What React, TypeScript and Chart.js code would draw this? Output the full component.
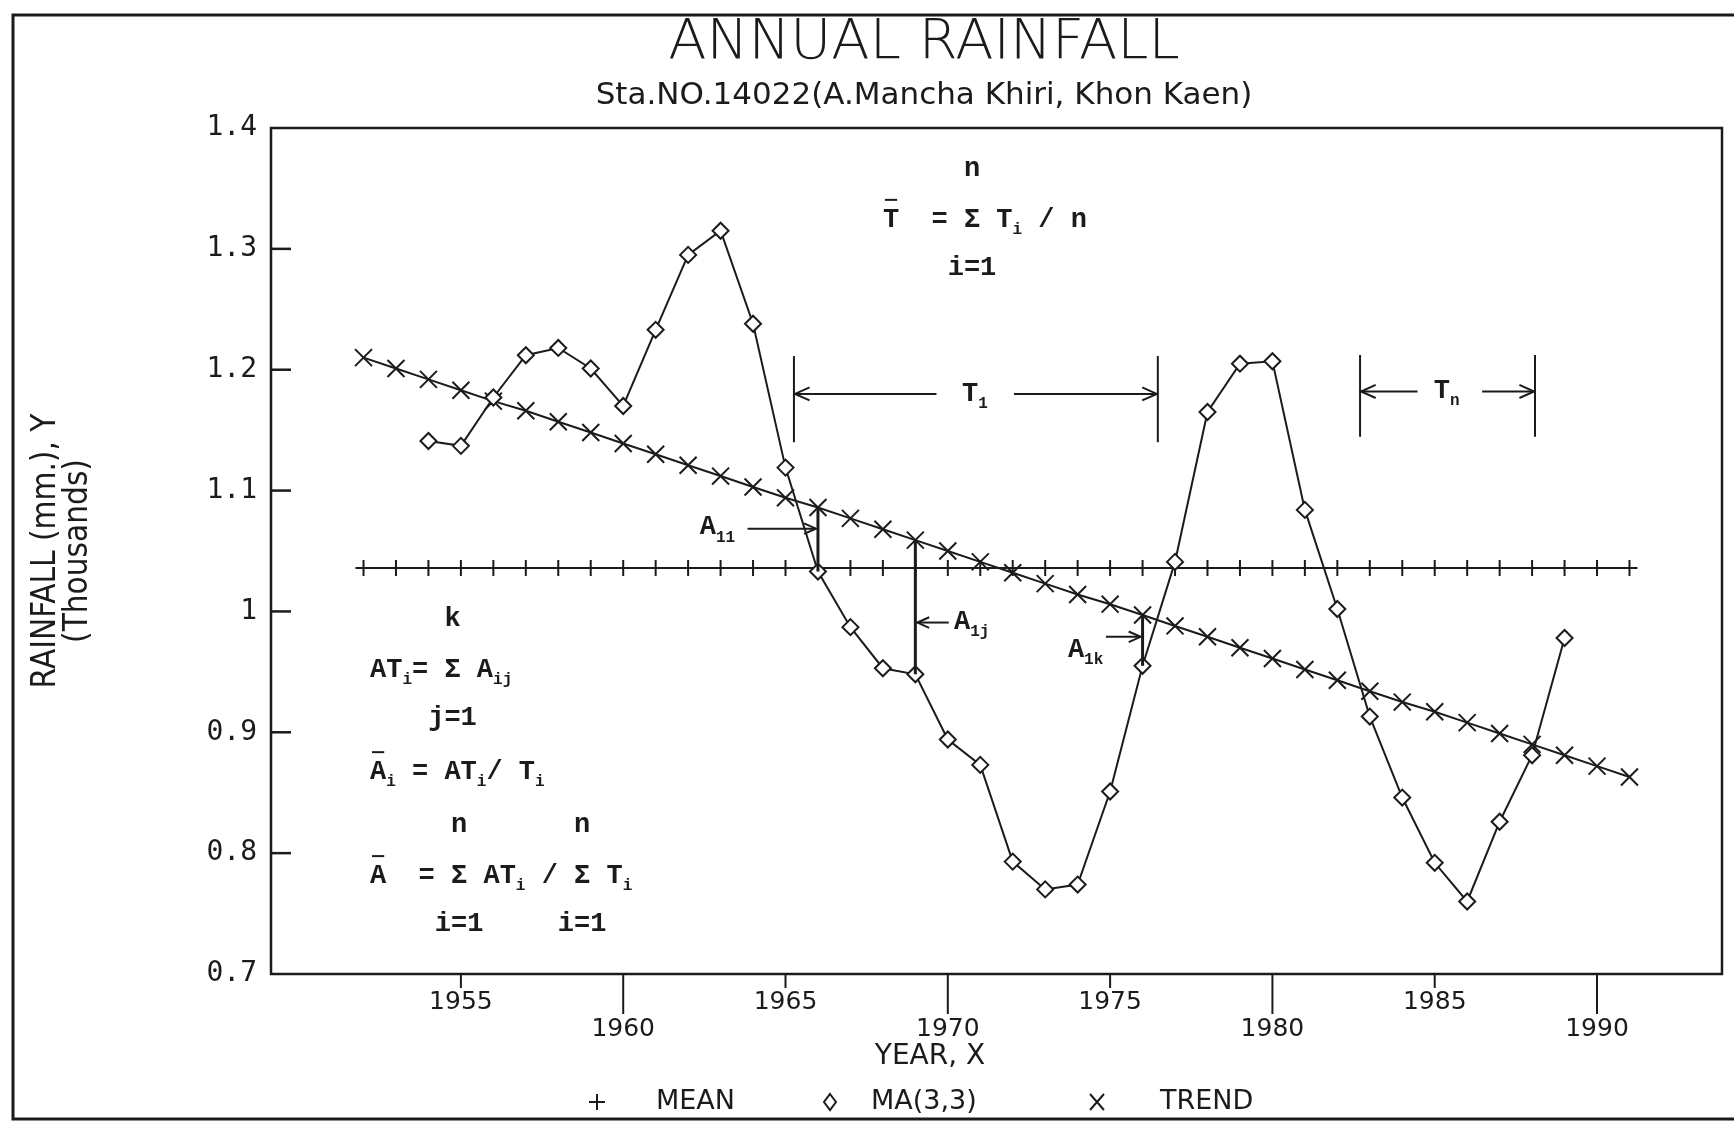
import React, { useEffect, useRef } from 'react';
import { Chart, registerables } from 'chart.js';

Chart.register(...registerables);

// ---------- data ----------
const years = [
  1952, 1953, 1954, 1955, 1956, 1957, 1958, 1959, 1960, 1961,
  1962, 1963, 1964, 1965, 1966, 1967, 1968, 1969, 1970, 1971,
  1972, 1973, 1974, 1975, 1976, 1977, 1978, 1979, 1980, 1981,
  1982, 1983, 1984, 1985, 1986, 1987, 1988, 1989, 1990, 1991,
];
const meanValues = [
  1.036, 1.036, 1.036, 1.036, 1.036, 1.036, 1.036, 1.036, 1.036, 1.036,
  1.036, 1.036, 1.036, 1.036, 1.036, 1.036, 1.036, 1.036, 1.036, 1.036,
  1.036, 1.036, 1.036, 1.036, 1.036, 1.036, 1.036, 1.036, 1.036, 1.036,
  1.036, 1.036, 1.036, 1.036, 1.036, 1.036, 1.036, 1.036, 1.036, 1.036,
];
const trendValues = [
  1.210, 1.201, 1.192, 1.183, 1.174, 1.166, 1.157, 1.148, 1.139, 1.130,
  1.121, 1.112, 1.103, 1.094, 1.086, 1.077, 1.068, 1.059, 1.050, 1.041,
  1.032, 1.023, 1.014, 1.006, 0.997, 0.988, 0.979, 0.970, 0.961, 0.952,
  0.943, 0.934, 0.925, 0.917, 0.908, 0.899, 0.890, 0.881, 0.872, 0.863,
];
const maYears = [
  1954, 1955, 1956, 1957, 1958, 1959, 1960, 1961, 1962, 1963, 1964, 1965,
  1966, 1967, 1968, 1969, 1970, 1971, 1972, 1973, 1974, 1975, 1976, 1977,
  1978, 1979, 1980, 1981, 1982, 1983, 1984, 1985, 1986, 1987, 1988, 1989,
];
const maValues = [
  1.141, 1.137, 1.177, 1.212, 1.218, 1.201, 1.170, 1.233, 1.295, 1.315, 1.238, 1.119,
  1.033, 0.987, 0.953, 0.948, 0.894, 0.873, 0.793, 0.770, 0.774, 0.851, 0.955, 1.041,
  1.165, 1.205, 1.207, 1.084, 1.002, 0.913, 0.846, 0.792, 0.760, 0.826, 0.881, 0.978,
];
const seriesLabels = ['MEAN', 'MA(3,3)', 'TREND'];
const xTicks = [1955, 1960, 1965, 1970, 1975, 1980, 1985, 1990];
const xTickLabels = ['1955', '1960', '1965', '1970', '1975', '1980', '1985', '1990'];
const yTicks = [0.7, 0.8, 0.9, 1.0, 1.1, 1.2, 1.3, 1.4];
const yTickLabels = ['0.7', '0.8', '0.9', '1', '1.1', '1.2', '1.3', '1.4'];
const titleText = 'ANNUAL RAINFALL';
const subtitleText = 'Sta.NO.14022(A.Mancha Khiri, Khon Kaen)';
const xTitle = 'YEAR, X';
const yTitle = ['RAINFALL (mm.), Y', '(Thousands)'];
const departureYears = [1966, 1969, 1976];

// ---------- styling / annotation layout ----------
const INK = '#1b1b1b';
const CANVAS_W = 1848;
const CANVAS_H = 1127;
const CONDENSED = "'Liberation Sans Narrow', 'DejaVu Sans Condensed', 'Open Sans', sans-serif";
const WIDE = "'DejaVu Sans', 'Open Sans', sans-serif";
const DIGITS = "'DejaVu Sans Mono', monospace";
const TYPE = "'Liberation Mono', 'DejaVu Sans Mono', monospace";
const MAIN_FONT = `bold 27px ${TYPE}`;
const SUB_FONT = `bold 16px ${TYPE}`;

type Seg = { t: string; sub?: boolean; bar?: boolean; over?: string; under?: string };

const formulas: { x: number; y: number; segs: Seg[] }[] = [
  { x: 1968.0, y: 1.324, segs: [{ t: 'T', bar: true }, { t: '  = ' }, { t: 'Σ', over: 'n', under: 'i=1' }, { t: ' T' }, { t: 'i', sub: true }, { t: ' / n' }] },
  { x: 1952.2, y: 0.9515, segs: [{ t: 'AT' }, { t: 'i', sub: true }, { t: '= ' }, { t: 'Σ', over: 'k', under: 'j=1' }, { t: ' A' }, { t: 'ij', sub: true }] },
  { x: 1952.2, y: 0.867, segs: [{ t: 'A', bar: true }, { t: 'i', sub: true }, { t: ' = ' }, { t: 'AT' }, { t: 'i', sub: true }, { t: '/ ' }, { t: 'T' }, { t: 'i', sub: true }] },
  { x: 1952.2, y: 0.781, segs: [{ t: 'A', bar: true }, { t: '  = ' }, { t: 'Σ', over: 'n', under: 'i=1' }, { t: ' AT' }, { t: 'i', sub: true }, { t: ' / ' }, { t: 'Σ', over: 'n', under: 'i=1' }, { t: ' T' }, { t: 'i', sub: true }] },
];

const symbolLabels = [
  { x: 1970.44, y: 1.180, main: 'T', sub: '1' },
  { x: 1984.97, y: 1.182, main: 'T', sub: 'n' },
  { x: 1962.36, y: 1.0694, main: 'A', sub: '11' },
  { x: 1970.19, y: 0.991, main: 'A', sub: '1j' },
  { x: 1973.7, y: 0.968, main: 'A', sub: '1k' },
];

const brackets = [
  { x1: 1965.26, x2: 1976.47, top: 1.2113, bottom: 1.140, y: 1.180, in1: 1969.65, in2: 1972.04 },
  { x1: 1982.7, x2: 1988.09, top: 1.2122, bottom: 1.1445, y: 1.182, in1: 1984.47, in2: 1986.46 },
];

const departureArrows = [
  { from: 1963.83, y: 1.0685 },
  { from: 1970.03, y: 0.9908 },
  { from: 1974.87, y: 0.979 },
];

const legendLayout = { y: 1102, marker: [597, 830, 1097], text: [656, 871, 1160] };

function arrow(ctx: CanvasRenderingContext2D, x1: number, y1: number, x2: number, y2: number, head = 13) {
  ctx.beginPath();
  ctx.moveTo(x1, y1);
  ctx.lineTo(x2, y2);
  ctx.stroke();
  const a = Math.atan2(y2 - y1, x2 - x1);
  ctx.beginPath();
  ctx.moveTo(x2 - head * Math.cos(a - 0.42), y2 - head * Math.sin(a - 0.42));
  ctx.lineTo(x2, y2);
  ctx.lineTo(x2 - head * Math.cos(a + 0.42), y2 - head * Math.sin(a + 0.42));
  ctx.stroke();
}

function drawSegs(ctx: CanvasRenderingContext2D, x0: number, y0: number, segs: Seg[]) {
  let x = x0;
  ctx.textBaseline = 'middle';
  for (const s of segs) {
    ctx.font = s.sub ? SUB_FONT : MAIN_FONT;
    ctx.textAlign = 'left';
    const w = ctx.measureText(s.t).width;
    ctx.fillText(s.t, x, s.sub ? y0 + 10 : y0);
    if (s.bar) {
      ctx.beginPath();
      ctx.moveTo(x + 2, y0 - 20);
      ctx.lineTo(x + w - 2, y0 - 20);
      ctx.stroke();
    }
    if (s.over || s.under) {
      ctx.font = MAIN_FONT;
      ctx.textAlign = 'center';
      if (s.over) ctx.fillText(s.over, x + w / 2, y0 - 51);
      if (s.under) ctx.fillText(s.under, x + w / 2, y0 + 48);
    }
    x += w;
  }
}

const decorPlugin = {
  id: 'decor',
  beforeDraw(chart: any) {
    const ctx: CanvasRenderingContext2D = chart.ctx;
    ctx.save();
    ctx.fillStyle = '#ffffff';
    ctx.fillRect(0, 0, chart.width, chart.height);
    ctx.strokeStyle = INK;
    ctx.lineWidth = 3;
    ctx.strokeRect(13, 15, chart.width - 26, 1119 - 15);
    ctx.restore();
  },
  afterDatasetsDraw(chart: any) {
    const ctx: CanvasRenderingContext2D = chart.ctx;
    const xs = chart.scales.x;
    const ys = chart.scales.y;
    const { left, right, top, bottom } = chart.chartArea;
    ctx.save();
    ctx.strokeStyle = INK;
    ctx.fillStyle = INK;

    // plot frame
    ctx.lineWidth = 2.5;
    ctx.strokeRect(left, top, right - left, bottom - top);

    // y ticks (inward)
    yTicks.forEach((v) => {
      const py = ys.getPixelForValue(v);
      if (Math.abs(py - top) < 2 || Math.abs(py - bottom) < 2) return;
      ctx.beginPath();
      ctx.moveTo(left, py);
      ctx.lineTo(left + 20, py);
      ctx.stroke();
    });
    // x ticks (outward, staggered)
    ctx.lineWidth = 2;
    xTicks.forEach((v, i) => {
      const px = xs.getPixelForValue(v);
      ctx.beginPath();
      ctx.moveTo(px, bottom);
      ctx.lineTo(px, bottom + (i % 2 === 0 ? 14 : 40));
      ctx.stroke();
    });

    // departures between trend and moving average
    departureYears.forEach((yr, k) => {
      const px = xs.getPixelForValue(yr);
      const t = trendValues[years.indexOf(yr)];
      const m = maValues[maYears.indexOf(yr)];
      ctx.lineWidth = 3;
      ctx.beginPath();
      ctx.moveTo(px, ys.getPixelForValue(t));
      ctx.lineTo(px, ys.getPixelForValue(m));
      ctx.stroke();
      const a = departureArrows[k];
      ctx.lineWidth = 2;
      const fromX = xs.getPixelForValue(a.from);
      const tipX = fromX < px ? px - 2 : px + 2;
      arrow(ctx, fromX, ys.getPixelForValue(a.y), tipX, ys.getPixelForValue(a.y));
    });

    // period brackets
    ctx.lineWidth = 2;
    brackets.forEach((b) => {
      const x1 = xs.getPixelForValue(b.x1);
      const x2 = xs.getPixelForValue(b.x2);
      const yt = ys.getPixelForValue(b.top);
      const yb = ys.getPixelForValue(b.bottom);
      const ya = ys.getPixelForValue(b.y);
      [x1, x2].forEach((xx) => {
        ctx.beginPath();
        ctx.moveTo(xx, yt);
        ctx.lineTo(xx, yb);
        ctx.stroke();
      });
      arrow(ctx, xs.getPixelForValue(b.in1), ya, x1 + 1, ya, 16);
      arrow(ctx, xs.getPixelForValue(b.in2), ya, x2 - 1, ya, 16);
    });

    // symbol labels
    symbolLabels.forEach((s) => {
      drawSegs(ctx, xs.getPixelForValue(s.x), ys.getPixelForValue(s.y), [{ t: s.main }, { t: s.sub, sub: true }]);
    });

    // formulas
    ctx.lineWidth = 2;
    formulas.forEach((f) => {
      drawSegs(ctx, xs.getPixelForValue(f.x), ys.getPixelForValue(f.y), f.segs);
    });

    // x-axis title
    ctx.font = `28px ${WIDE}`;
    ctx.textAlign = 'center';
    ctx.textBaseline = 'middle';
    ctx.fillText(xTitle, 930, 1057);

    // legend
    const ly = legendLayout.y;
    chart.data.datasets.forEach((ds: any, i: number) => {
      const mx = legendLayout.marker[i];
      ctx.lineWidth = 2;
      ctx.beginPath();
      if (ds.pointStyle === 'cross') {
        ctx.moveTo(mx - 8, ly); ctx.lineTo(mx + 8, ly);
        ctx.moveTo(mx, ly - 8); ctx.lineTo(mx, ly + 8);
      } else if (ds.pointStyle === 'rectRot') {
        ctx.moveTo(mx, ly - 8); ctx.lineTo(mx + 6, ly); ctx.lineTo(mx, ly + 8); ctx.lineTo(mx - 6, ly); ctx.closePath();
      } else {
        ctx.moveTo(mx - 7, ly - 8); ctx.lineTo(mx + 7, ly + 8);
        ctx.moveTo(mx + 7, ly - 8); ctx.lineTo(mx - 7, ly + 8);
      }
      ctx.stroke();
      ctx.font = `27px ${WIDE}`;
      ctx.textAlign = 'left';
      ctx.fillText(ds.label, legendLayout.text[i], ly);
    });

    ctx.restore();
  },
};

export default function App() {
  const canvasRef = useRef<HTMLCanvasElement | null>(null);

  useEffect(() => {
    const canvas = canvasRef.current;
    if (!canvas) return;
    const chart = new Chart(canvas, {
      type: 'line',
      data: {
        datasets: [
          {
            label: seriesLabels[0],
            data: years.map((x, i) => ({ x, y: meanValues[i] })),
            borderColor: INK,
            borderWidth: 2,
            pointStyle: 'cross',
            pointRadius: 8,
            pointBorderWidth: 2,
            pointBorderColor: INK,
            pointBackgroundColor: INK,
            fill: false,
            tension: 0,
            order: 2,
          },
          {
            label: seriesLabels[1],
            data: maYears.map((x, i) => ({ x, y: maValues[i] })),
            borderColor: INK,
            borderWidth: 2,
            pointStyle: 'rectRot',
            pointRadius: 8,
            pointBorderWidth: 2,
            pointBorderColor: INK,
            pointBackgroundColor: '#ffffff',
            fill: false,
            tension: 0,
            order: 0,
          },
          {
            label: seriesLabels[2],
            data: years.map((x, i) => ({ x, y: trendValues[i] })),
            borderColor: INK,
            borderWidth: 2,
            pointStyle: 'crossRot',
            pointRadius: 12,
            pointBorderWidth: 2,
            pointBorderColor: INK,
            fill: false,
            tension: 0,
            order: 1,
          },
        ],
      },
      options: {
        responsive: false,
        maintainAspectRatio: false,
        animation: false,
        events: [],
        layout: { padding: { left: 13, right: 13, top: 0, bottom: 73 } },
        plugins: {
          legend: { display: false },
          tooltip: { enabled: false },
          title: {
            display: true,
            text: titleText,
            color: INK,
            font: { family: WIDE, size: 56, weight: '200', lineHeight: 1 },
            padding: { top: 15, bottom: 0 },
          },
          subtitle: {
            display: true,
            text: subtitleText,
            color: INK,
            font: { family: WIDE, size: 31, weight: '400', lineHeight: 1 },
            padding: { top: 9, bottom: 17 },
          },
        },
        scales: {
          x: {
            type: 'linear',
            min: 1949.15,
            max: 1993.85,
            afterBuildTicks: (s: any) => {
              s.ticks = xTicks.map((v) => ({ value: v }));
            },
            afterFit: (s: any) => {
              s.height = 80;
            },
            ticks: {
              autoSkip: false,
              maxRotation: 0,
              minRotation: 0,
              padding: 15,
              color: INK,
              font: { family: WIDE, size: 25, weight: '400', lineHeight: 1.08 },
              callback: (v: any) => {
                const i = xTicks.indexOf(Number(v));
                const lab = i >= 0 ? xTickLabels[i] : String(v);
                return i % 2 === 0 ? lab : ['', lab];
              },
            },
            grid: { display: false, drawTicks: false, tickLength: 0 },
            border: { display: false },
          },
          y: {
            type: 'linear',
            min: 0.7,
            max: 1.4,
            afterBuildTicks: (s: any) => {
              s.ticks = yTicks.map((v) => ({ value: v }));
            },
            afterFit: (s: any) => {
              s.width = 258;
            },
            ticks: {
              padding: 14,
              color: INK,
              font: { family: DIGITS, size: 28 },
              callback: (v: any) => {
                const i = yTicks.findIndex((t) => Math.abs(t - Number(v)) < 1e-6);
                return i >= 0 ? yTickLabels[i] : String(v);
              },
            },
            grid: { display: false, drawTicks: false, tickLength: 0 },
            border: { display: false },
            title: {
              display: true,
              text: yTitle,
              color: INK,
              font: { family: CONDENSED, size: 33, weight: '300', lineHeight: 0.95 },
              padding: { top: 18, bottom: 0 },
            },
          },
          yRight: {
            type: 'linear',
            position: 'right',
            display: true,
            min: 0.7,
            max: 1.4,
            afterFit: (s: any) => {
              s.width = 113;
            },
            ticks: { display: false },
            grid: { display: false, drawTicks: false, tickLength: 0 },
            border: { display: false },
          },
        },
      },
      plugins: [decorPlugin],
    } as any);
    return () => chart.destroy();
  }, []);

  return (
    <div
      style={{
        position: 'fixed',
        left: 0,
        top: 0,
        width: 1734,
        height: CANVAS_H,
        overflow: 'hidden',
        background: '#ffffff',
      }}
    >
      <canvas ref={canvasRef} width={CANVAS_W} height={CANVAS_H} style={{ display: 'block' }} />
    </div>
  );
}
